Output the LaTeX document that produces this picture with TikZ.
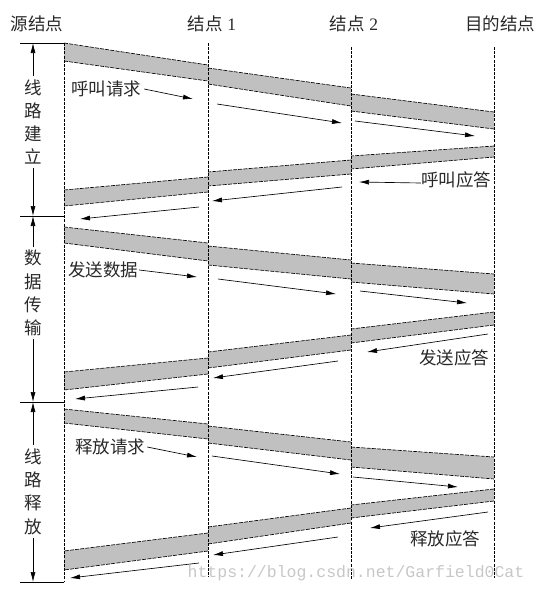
\documentclass[tikz,border=0pt]{standalone}
\usepackage{fontspec}
\setmainfont{Liberation Serif}
\newfontfamily\cjk{Noto Sans CJK SC}
\newfontfamily\wmfont{Liberation Mono}
\usetikzlibrary{arrows.meta}
\definecolor{bandgray}{RGB}{192,192,192}
\definecolor{txtc}{RGB}{40,40,40}
\newcommand\bandseg[6]{%
  \fill[bandgray] (#1,#2) -- (#4,#5) -- (#4,#6) -- (#1,#3) -- cycle;
  \draw[bandedge] (#1,#2) -- (#4,#5) (#1,#3) -- (#4,#6);}
\begin{document}
\begin{tikzpicture}[x=1pt,y=-1pt,
  lifeline/.style={line width=0.75pt, dash pattern=on 3pt off 1.2pt},
  bandedge/.style={line width=0.65pt, dash pattern=on 4pt off 1.2pt},
  msg/.style={line width=0.65pt, -{Latex[length=10pt,width=5pt]}},
  tick/.style={line width=0.75pt},
  dim/.style={line width=0.65pt, -{Latex[length=10pt,width=5pt]}},
  head/.style={font=\fontsize{17.5pt}{20pt}\selectfont, inner sep=0pt, text=txtc},
  lbl/.style={font=\cjk\fontsize{17.5pt}{20pt}\selectfont, inner sep=0pt, text=txtc},
  vlbl/.style={font=\cjk\fontsize{17.5pt}{23.3pt}\selectfont, align=center, inner sep=0pt, text=txtc},
  wm/.style={font=\wmfont\fontsize{16.5pt}{18pt}\selectfont, inner sep=0pt, text=black!22}
]
\useasboundingbox (0,0) rectangle (538,595);

% ---------- bands: section 1 ----------
\bandseg{64}{43}{61}{208}{65}{81}
\bandseg{208}{68}{84}{351}{88}{106}
\bandseg{351}{94}{111}{494}{112}{129}
\bandseg{494}{146}{157}{351}{156}{169}
\bandseg{351}{160}{174}{208}{172}{186}
\bandseg{208}{177}{192}{64}{190}{206}
% ---------- bands: section 2 ----------
\bandseg{64}{227}{243}{208}{243}{261}
\bandseg{208}{246}{265}{351}{260}{279}
\bandseg{351}{263}{282}{494}{274}{294}
\bandseg{494}{312}{325}{351}{329}{343}
\bandseg{351}{335}{350}{208}{352}{368}
\bandseg{208}{358}{374}{64}{372}{390}
% ---------- bands: section 3 ----------
\bandseg{64}{409}{423}{208}{424}{439}
\bandseg{208}{426}{443}{351}{442}{460}
\bandseg{351}{447}{467}{494}{457}{479}
\bandseg{494}{489}{501}{351}{505}{518}
\bandseg{351}{508}{523}{208}{527}{544}
\bandseg{208}{533}{551}{64}{551}{570}

% ---------- life lines ----------
\coordinate (srcT) at (64,43);  \coordinate (srcB) at (64,582);
\coordinate (n1T) at (208,43);  \coordinate (n1B) at (208,577);
\coordinate (n2T) at (351,47);  \coordinate (n2B) at (351,580);
\coordinate (dstT) at (494,47); \coordinate (dstB) at (494,578);
\draw[lifeline] (srcT) -- (srcB);
\draw[lifeline] (n1T) -- (n1B);
\draw[lifeline] (n2T) -- (n2B);
\draw[lifeline] (dstT) -- (dstB);

% ---------- headers ----------
\node[lbl] (hsrc) at (37,24) {源结点};
\node[head] (hn1) at (212,24) {{\cjk 结点} 1};
\node[head] (hn2) at (354,24) {{\cjk 结点} 2};
\node[lbl] (hdst) at (500,24) {目的结点};

% ---------- left bracket ----------
\coordinate (k1a) at (20,43);  \coordinate (k1b) at (64,43);
\coordinate (k2a) at (20,216); \coordinate (k2b) at (64,216);
\coordinate (k3a) at (20,402); \coordinate (k3b) at (64,402);
\coordinate (k4a) at (20,582); \coordinate (k4b) at (64,582);
\draw[tick] (k1a) -- (k1b);
\draw[tick] (k2a) -- (k2b);
\draw[tick] (k3a) -- (k3b);
\draw[tick] (k4a) -- (k4b);
\node[vlbl] (ph1) at (33,122) {线\\路\\建\\立};
\node[vlbl] (ph2) at (33,293) {数\\据\\传\\输};
\node[vlbl] (ph3) at (33,491.5) {线\\路\\释\\放};
\coordinate (d1t) at (33,43);  \coordinate (d1b) at (33,216);
\coordinate (d2t) at (33,216); \coordinate (d2b) at (33,402);
\coordinate (d3t) at (33,402); \coordinate (d3b) at (33,582);
\draw[dim] ([yshift=3pt]ph1.north) -- (d1t);
\draw[dim] ([yshift=-3pt]ph1.south) -- (d1b);
\draw[dim] ([yshift=3pt]ph2.north) -- (d2t);
\draw[dim] ([yshift=-3pt]ph2.south) -- (d2b);
\draw[dim] ([yshift=3pt]ph3.north) -- (d3t);
\draw[dim] ([yshift=-3pt]ph3.south) -- (d3b);

% ---------- section 1 messages ----------
\node[lbl] (req1) at (106,89) {呼叫请求};
\coordinate (a1e) at (193,99);
\draw[msg] ([xshift=3pt]req1.east) -- (a1e);
\coordinate (a2s) at (217,104); \coordinate (a2e) at (342,123);
\draw[msg] (a2s) -- (a2e);
\coordinate (a3s) at (355,121); \coordinate (a3e) at (475,136);
\draw[msg] (a3s) -- (a3e);
\node[lbl] (rep1) at (456,180) {呼叫应答};
\coordinate (b1e) at (359,182);
\draw[msg] ([yshift=-3pt]rep1.west) -- (b1e);
\coordinate (b2s) at (342,187); \coordinate (b2e) at (212,201);
\draw[msg] (b2s) -- (b2e);
\coordinate (b3s) at (199,207); \coordinate (b3e) at (80,219);
\draw[msg] (b3s) -- (b3e);

% ---------- section 2 messages ----------
\node[lbl] (req2) at (103,270) {发送数据};
\coordinate (c1e) at (197,277);
\draw[msg] ([xshift=1pt]req2.east) -- (c1e);
\coordinate (c2s) at (218,279); \coordinate (c2e) at (336,294);
\draw[msg] (c2s) -- (c2e);
\coordinate (c3s) at (360,291); \coordinate (c3e) at (467,303);
\draw[msg] (c3s) -- (c3e);
\node[lbl] (rep2) at (454,358) {发送应答};
\coordinate (e1s) at (488,334); \coordinate (e1e) at (367,352);
\draw[msg] (e1s) -- (e1e);
\coordinate (e2s) at (338,361); \coordinate (e2e) at (213,378);
\draw[msg] (e2s) -- (e2e);
\coordinate (e3s) at (198,387); \coordinate (e3e) at (75,399);
\draw[msg] (e3s) -- (e3e);

% ---------- section 3 messages ----------
\node[lbl] (req3) at (110,447) {释放请求};
\coordinate (f1e) at (197,457);
\draw[msg] ([xshift=2pt]req3.east) -- (f1e);
\coordinate (f2s) at (212,456); \coordinate (f2e) at (340,474);
\draw[msg] (f2s) -- (f2e);
\coordinate (f3s) at (353,477); \coordinate (f3e) at (458,487);
\draw[msg] (f3s) -- (f3e);
\node[lbl] (rep3) at (445,539) {释放应答};
\coordinate (g1s) at (488,512); \coordinate (g1e) at (370,528);
\draw[msg] (g1s) -- (g1e);
\coordinate (g2s) at (338,537); \coordinate (g2e) at (213,555);
\draw[msg] (g2s) -- (g2e);
\coordinate (g3s) at (199,563); \coordinate (g3e) at (70,578);
\draw[msg] (g3s) -- (g3e);

% ---------- watermark ----------
\node[wm] (wmark) at (356,573) {https://blog.csdn.net/Garfield0Cat};
\end{tikzpicture}
\end{document}
